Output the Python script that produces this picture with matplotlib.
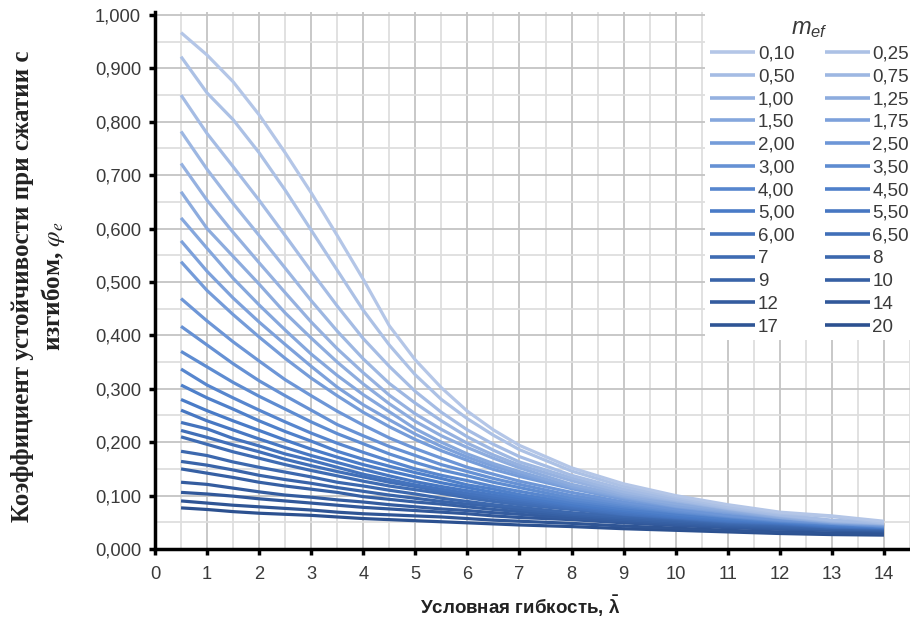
import matplotlib
matplotlib.use("Agg")
import matplotlib.pyplot as plt
from matplotlib.colors import LinearSegmentedColormap
from matplotlib.font_manager import FontProperties
from matplotlib.ticker import MultipleLocator, FuncFormatter

plt.rcParams['mathtext.fontset'] = 'custom'
plt.rcParams['mathtext.it'] = 'Liberation Sans:italic'
plt.rcParams['mathtext.rm'] = 'Liberation Sans:bold'
plt.rcParams['mathtext.bf'] = 'Liberation Sans:bold'

# Conditional slenderness (x axis)
lam = [0.5, 1.0, 1.5, 2.0, 2.5, 3.0, 3.5, 4.0, 4.5, 5.0, 5.5, 6.0, 6.5, 7.0,
       8.0, 9.0, 10.0, 11.0, 12.0, 13.0, 14.0]

# m_ef legend labels
m_labels = ["0,10", "0,25", "0,50", "0,75", "1,00", "1,25", "1,50", "1,75",
            "2,00", "2,50", "3,00", "3,50", "4,00", "4,50", "5,00", "5,50",
            "6,00", "6,50", "7", "8", "9", "10", "12", "14", "17", "20"]

# phi_e values (x1000) per m_ef series
m0_10 = [967, 925, 875, 813, 742, 667, 587, 505, 418, 354, 302, 258, 223, 194, 152, 122, 100, 83, 69, 62, 52]
m0_25 = [922, 854, 804, 742, 672, 597, 522, 447, 382, 326, 280, 244, 213, 186, 146, 117, 97, 79, 67, 61, 49]
m0_50 = [850, 778, 716, 653, 587, 520, 455, 394, 342, 295, 256, 223, 196, 173, 138, 112, 93, 77, 64, 54, 49]
m0_75 = [782, 711, 647, 587, 526, 465, 408, 356, 310, 273, 240, 210, 185, 163, 133, 107, 91, 76, 63, 53, 48]
m1_00 = [722, 653, 593, 536, 480, 425, 375, 330, 288, 253, 224, 198, 176, 157, 128, 103, 90, 75, 62, 52, 48]
m1_25 = [669, 600, 548, 496, 442, 395, 350, 309, 272, 239, 212, 190, 170, 152, 121, 100, 85, 73, 60, 51, 47]
m1_50 = [620, 563, 507, 457, 410, 365, 325, 289, 257, 225, 200, 178, 160, 145, 117, 98, 81, 71, 59, 51, 47]
m1_75 = [577, 520, 470, 425, 383, 342, 303, 270, 242, 215, 192, 172, 155, 141, 115, 96, 80, 69, 59, 50, 46]
m2_00 = [538, 484, 439, 397, 357, 320, 287, 256, 229, 205, 184, 166, 149, 136, 113, 93, 79, 68, 58, 49, 45]
m2_50 = [469, 427, 388, 352, 317, 287, 258, 232, 208, 188, 170, 153, 140, 127, 106, 88, 75, 63, 55, 49, 44]
m3_00 = [417, 382, 347, 315, 287, 260, 233, 212, 192, 175, 158, 145, 132, 121, 100, 85, 72, 62, 54, 48, 43]
m3_50 = [370, 341, 312, 286, 262, 238, 216, 197, 178, 162, 148, 137, 125, 115, 95, 82, 70, 61, 53, 48, 43]
m4_00 = [337, 307, 283, 260, 238, 217, 198, 181, 165, 150, 138, 128, 117, 108, 91, 79, 69, 60, 52, 47, 42]
m4_50 = [307, 283, 262, 240, 220, 202, 183, 168, 155, 143, 132, 120, 112, 102, 87, 75, 65, 57, 51, 45, 41]
m5_00 = [280, 259, 240, 222, 204, 187, 172, 158, 146, 135, 124, 115, 106, 98, 83, 72, 62, 55, 50, 44, 41]
m5_50 = [260, 240, 223, 206, 190, 175, 162, 149, 137, 126, 117, 109, 101, 94, 81, 69, 60, 53, 49, 43, 40]
m6_00 = [237, 225, 207, 193, 178, 166, 153, 140, 130, 120, 112, 104, 97, 91, 78, 66, 59, 52, 48, 42, 40]
m6_50 = [222, 209, 195, 182, 168, 156, 145, 135, 125, 117, 108, 100, 94, 87, 76, 65, 58, 51, 47, 41, 39]
m7 = [210, 196, 182, 170, 158, 147, 137, 127, 118, 111, 104, 96, 89, 83, 74, 64, 57, 50, 46, 41, 39]
m8 = [183, 175, 163, 153, 144, 135, 125, 118, 110, 103, 95, 89, 83, 78, 68, 61, 55, 48, 44, 40, 38]
m9 = [164, 157, 148, 138, 130, 123, 115, 108, 101, 95, 89, 84, 80, 74, 65, 58, 52, 46, 42, 38, 36]
m10 = [150, 142, 134, 125, 118, 112, 106, 98, 93, 88, 84, 79, 74, 70, 62, 55, 49, 44, 40, 37, 36]
m12 = [125, 121, 114, 107, 101, 97, 92, 88, 83, 79, 75, 72, 68, 65, 58, 52, 46, 42, 38, 36, 34]
m14 = [106, 103, 99, 94, 90, 86, 82, 78, 75, 72, 69, 66, 62, 59, 55, 49, 44, 40, 37, 35, 33]
m17 = [90, 86, 82, 79, 76, 73, 69, 66, 64, 62, 60, 57, 54, 52, 48, 43, 39, 35, 32, 30, 29]
m20 = [77, 74, 70, 67, 65, 63, 60, 57, 55, 53, 51, 49, 47, 45, 42, 38, 35, 32, 29, 27, 26]

series = [m0_10, m0_25, m0_50, m0_75, m1_00, m1_25, m1_50, m1_75, m2_00, m2_50,
          m3_00, m3_50, m4_00, m4_50, m5_00, m5_50, m6_00, m6_50, m7, m8, m9,
          m10, m12, m14, m17, m20]

cmap = LinearSegmentedColormap.from_list(
    "blues", [(0.0, "#b4c6e7"), (0.35, "#6f98d8"), (0.55, "#4a7cc8"), (1.0, "#2c5190")])

fig = plt.figure(figsize=(9.10, 6.18), dpi=100)
ax = fig.add_axes([155 / 910, 69 / 618, 755 / 910, 537 / 618])

n = len(series)
handles = []
for i, (vals, lab) in enumerate(zip(series, m_labels)):
    y = [v / 1000 for v in vals]
    ln, = ax.plot(lam, y, color=cmap(i / (n - 1)), lw=2.3, label=lab,
                  solid_capstyle='butt', solid_joinstyle='round',
                  zorder=3 + (n - i) * 0.01)
    handles.append(ln)

ax.set_xlim(0, 14.5)
ax.set_ylim(0, 1.0056)
ax.xaxis.set_major_locator(MultipleLocator(1))
ax.xaxis.set_minor_locator(MultipleLocator(0.5))
ax.yaxis.set_major_locator(MultipleLocator(0.1))
ax.yaxis.set_minor_locator(MultipleLocator(0.05))
ax.yaxis.set_major_formatter(FuncFormatter(lambda v, p: f"{v:.3f}".replace(".", ",")))
ax.xaxis.set_major_formatter(FuncFormatter(lambda v, p: f"{int(round(v))}" if v <= 14.01 else ""))

ax.grid(which='major', color='#c4c4c4', lw=1.3, zorder=0)
ax.grid(which='minor', color='#dedede', lw=1.3, zorder=0)
ax.set_axisbelow(True)

for s in ['top', 'right']:
    ax.spines[s].set_visible(False)
for s in ['left', 'bottom']:
    ax.spines[s].set_linewidth(2.5)
    ax.spines[s].set_color('black')
ax.tick_params(which='major', direction='out', length=4, width=2.5, color='black',
               labelsize=13.2, labelcolor='#3a3a3a')
ax.tick_params(axis='x', which='major', pad=8)
ax.tick_params(axis='y', which='major', pad=6)
ax.tick_params(which='minor', length=0)
for t in ax.get_xticklabels() + ax.get_yticklabels():
    t.set_fontfamily('Liberation Sans')

# legend filled row-wise
order = list(range(0, n, 2)) + list(range(1, n, 2))
leg = ax.legend([handles[k] for k in order], [m_labels[k] for k in order],
                ncol=2, loc='upper right', bbox_to_anchor=(1.0 + 13 / 755, 1.0 + 9 / 537),
                frameon=True, framealpha=1.0, facecolor='white', edgecolor='none',
                fancybox=False, handlelength=2.4, handletextpad=0.15,
                columnspacing=1.6, labelspacing=0.30, borderpad=0.25,
                prop=FontProperties(family='Liberation Sans', size=13.5),
                title=r"$m_{ef}$",
                title_fontproperties=FontProperties(family='Liberation Sans', size=17,
                                                    math_fontfamily='custom'))
for t in leg.get_texts():
    t.set_color('#3a3a3a')
for h in leg.get_lines():
    h.set_linewidth(2.6)
leg.get_title().set_color('#3a3a3a')
leg.set_zorder(10)

fig.text(520 / 910, 1 - 606 / 618, "Условная гибкость, $\\bar{\\mathrm{λ}}$",
         ha='center', va='center', fontsize=13.5, fontweight='bold',
         family='Liberation Sans', math_fontfamily='custom', color='#222222')

fig.text(39 / 910, 1 - 286 / 618,
         "Коэффициент устойчивости при сжатии с\nизгибом, $\\varphi_e$",
         rotation=90, ha='center', va='center', multialignment='center',
         fontsize=18, fontweight='bold', family='Liberation Serif',
         math_fontfamily='stix', linespacing=1.2, color='#222222')

fig.savefig("out.png", dpi=100)
